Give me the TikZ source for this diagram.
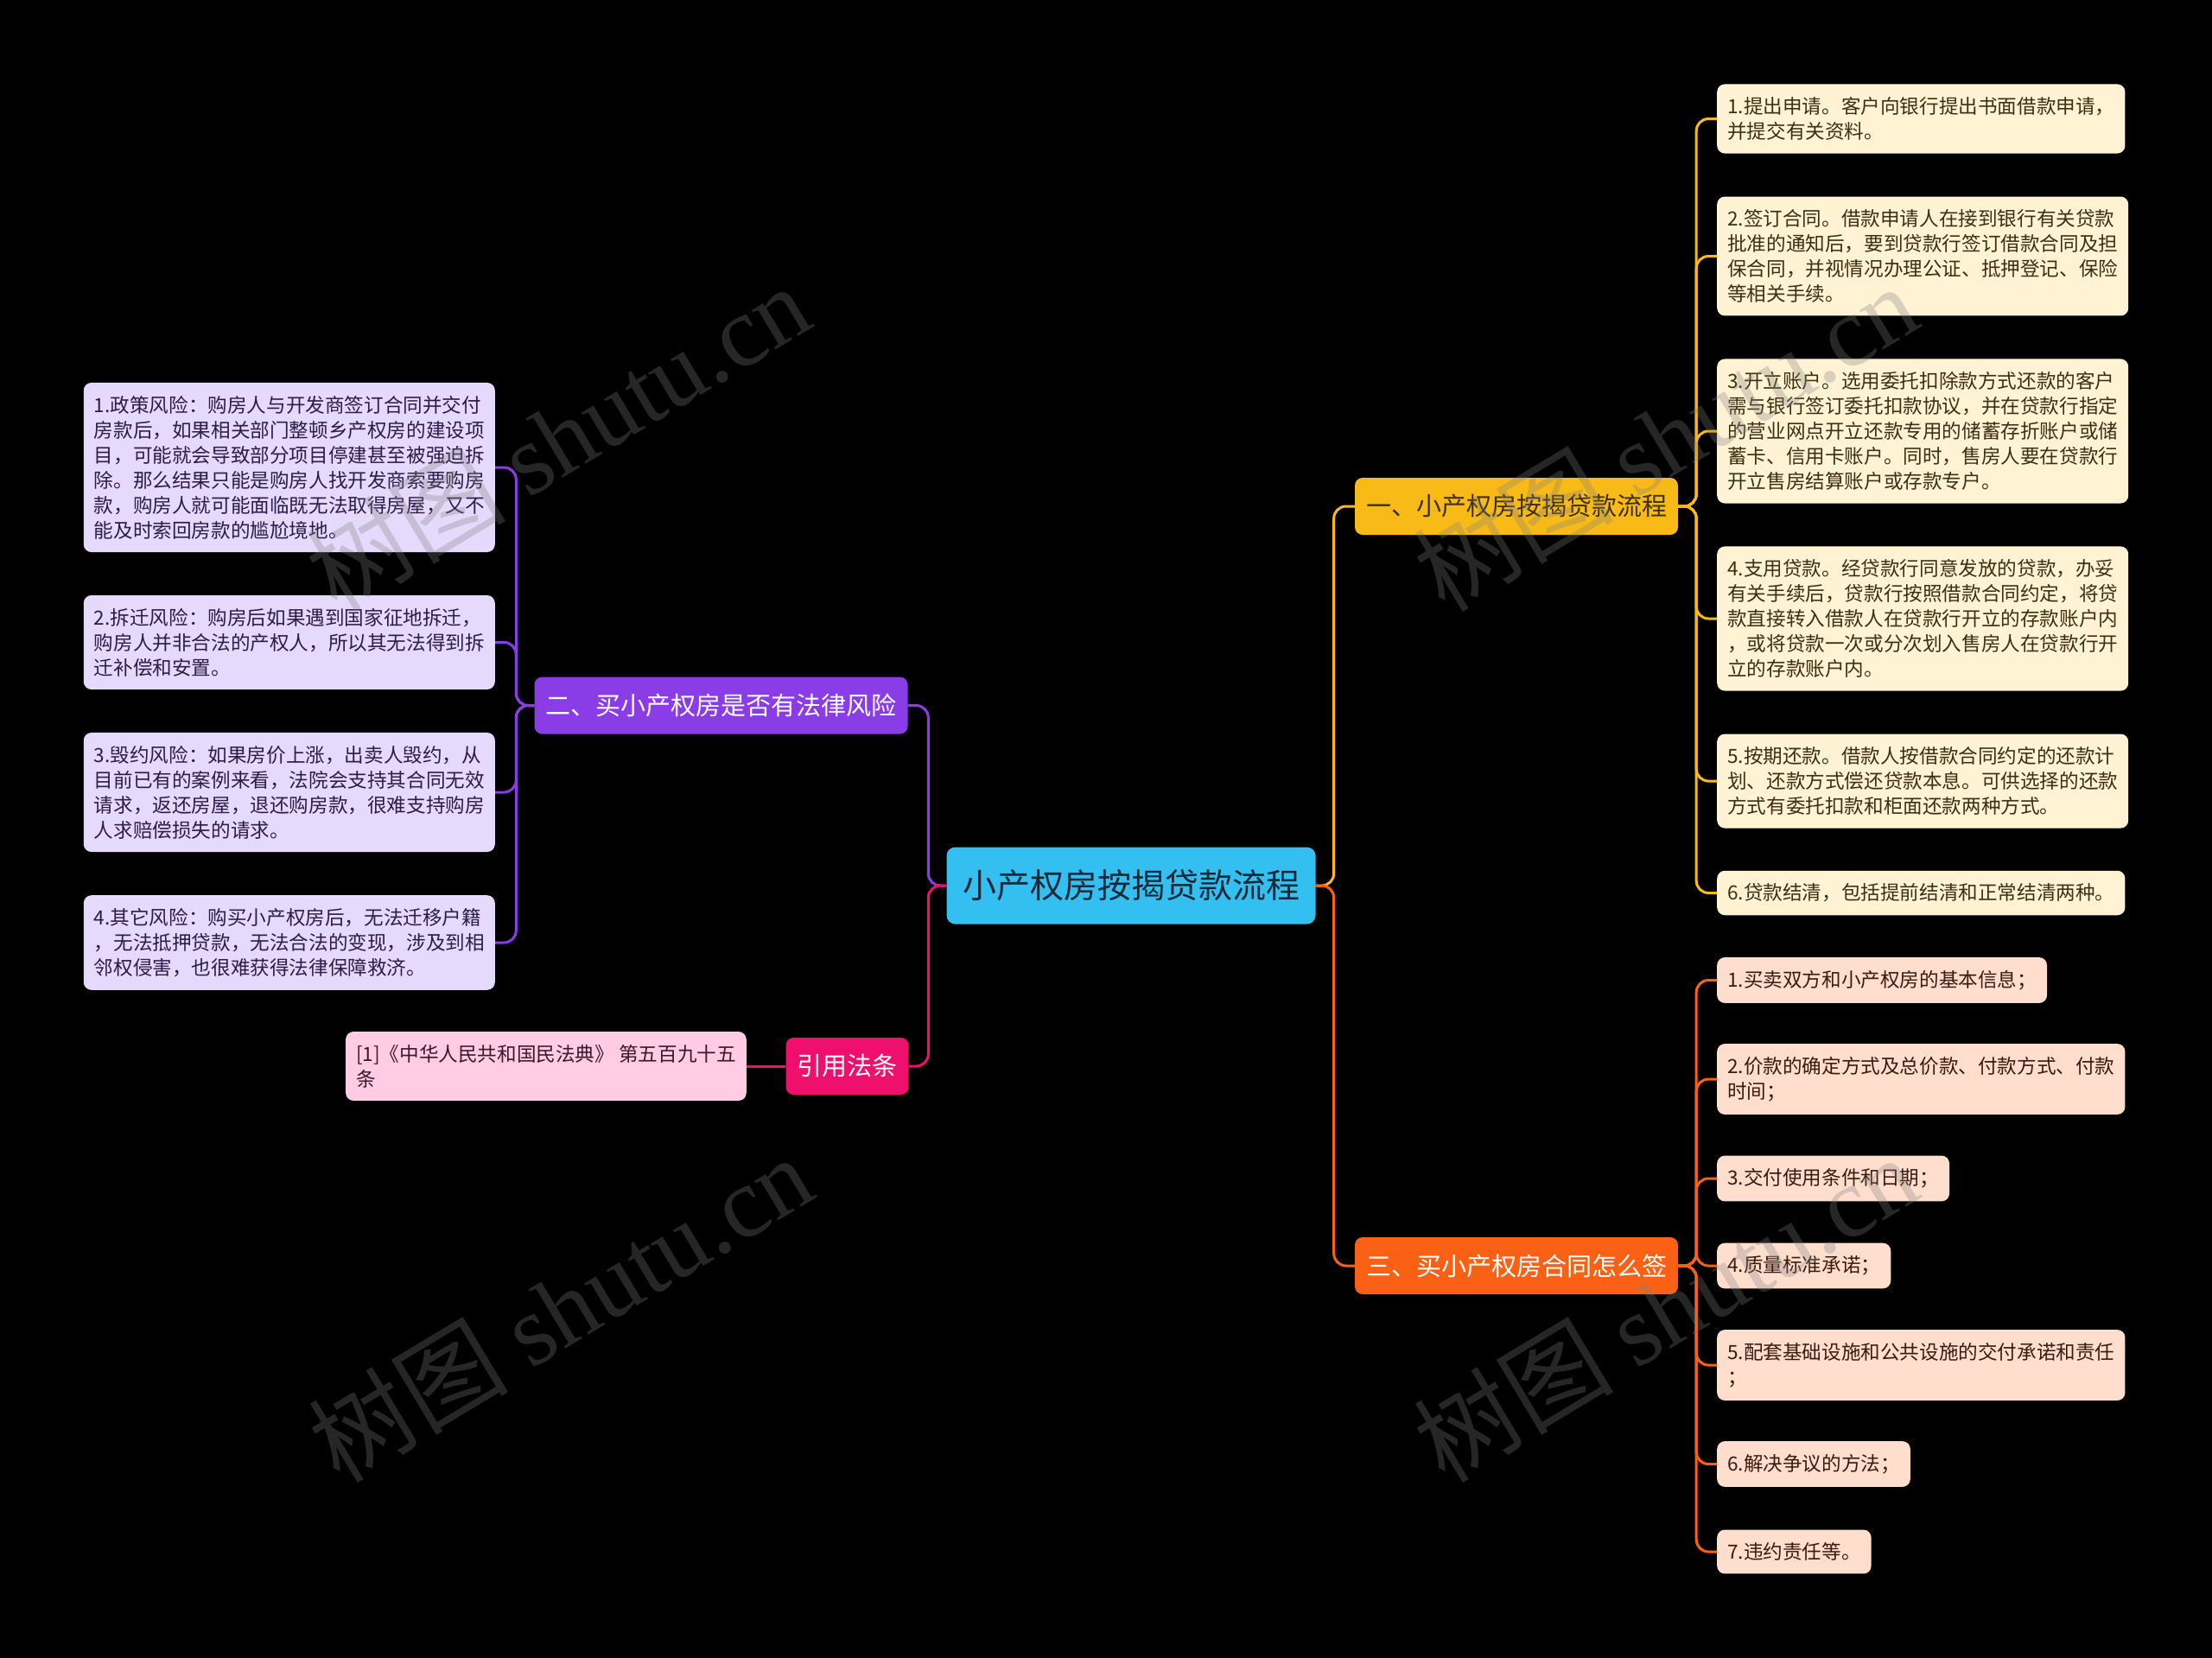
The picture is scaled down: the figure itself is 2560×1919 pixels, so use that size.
\documentclass[tikz,border=0pt]{standalone}
\usepackage{fontspec}
\setmainfont{Noto Sans CJK SC}
\newfontfamily\markserif{Liberation Serif}
\usetikzlibrary{calc}
\definecolor{rootfill}{RGB}{51,192,240}
\definecolor{rootink}{RGB}{24,40,56}
\definecolor{amberbr}{RGB}{248,186,22}
\definecolor{amberleaf}{RGB}{255,243,212}
\definecolor{amberink}{RGB}{60,48,16}
\definecolor{violetbr}{RGB}{138,60,230}
\definecolor{violetleaf}{RGB}{230,218,252}
\definecolor{violetink}{RGB}{44,28,72}
\definecolor{orangebr}{RGB}{250,97,20}
\definecolor{orangeleaf}{RGB}{255,222,206}
\definecolor{orangeink}{RGB}{60,26,14}
\definecolor{pinkbr}{RGB}{238,16,108}
\definecolor{pinkleaf}{RGB}{255,204,228}
\definecolor{pinkink}{RGB}{60,24,42}

\begin{document}
\begin{tikzpicture}[x=1pt,y=-1pt,
  root/.style={fill=rootfill,text=rootink,rounded corners=10pt,inner xsep=18.5pt,
    minimum height=89pt,font=\fontsize{39}{46}\selectfont},
  branch/.style={fill=#1,rounded corners=9pt,inner xsep=13pt,minimum height=66pt,
    font=\fontsize{29}{34}\selectfont},
  leaf/.style={fill=#1,rounded corners=9pt,inner xsep=12pt,inner ysep=15pt,
    align=left,font=\fontsize{22.6}{29}\selectfont},
  link/.style={draw=#1,line width=3pt,rounded corners=14pt},
  wmark/.style={text=gray,text opacity=0.3,rotate=31,font=\fontsize{116}{120}\selectfont}]
  \useasboundingbox (0,0) rectangle (2560,1919);
  \fill[black] (0,0) rectangle (2560,1919);

  % root and main branches
  \node[root] (root) at (1309,1025) {小产权房按揭贷款流程};
  \node[branch=amberbr,text=amberink] (b1) at (1755,586) {一、小产权房按揭贷款流程};
  \node[branch=violetbr,text=white] (b2) at (834.5,816.5) {二、买小产权房是否有法律风险};
  \node[branch=orangebr,text=white] (b3) at (1755,1465) {三、买小产权房合同怎么签};
  \node[branch=pinkbr,text=white] (b4) at (980.5,1234) {引用法条};

  % leaves of branch 1
  \begin{scope}[every node/.style={leaf=amberleaf,text=amberink,anchor=west}]
    \node (y1) at (1987,137.5) {1.提出申请。客户向银行提出书面借款申请，\\并提交有关资料。};
    \node (y2) at (1987,296.5) {2.签订合同。借款申请人在接到银行有关贷款\\批准的通知后，要到贷款行签订借款合同及担\\保合同，并视情况办理公证、抵押登记、保险\\等相关手续。};
    \node (y3) at (1987,499) {3.开立账户。选用委托扣除款方式还款的客户\\需与银行签订委托扣款协议，并在贷款行指定\\的营业网点开立还款专用的储蓄存折账户或储\\蓄卡、信用卡账户。同时，售房人要在贷款行\\开立售房结算账户或存款专户。};
    \node (y4) at (1987,716) {4.支用贷款。经贷款行同意发放的贷款，办妥\\有关手续后，贷款行按照借款合同约定，将贷\\款直接转入借款人在贷款行开立的存款账户内\\，或将贷款一次或分次划入售房人在贷款行开\\立的存款账户内。};
    \node (y5) at (1987,904) {5.按期还款。借款人按借款合同约定的还款计\\划、还款方式偿还贷款本息。可供选择的还款\\方式有委托扣款和柜面还款两种方式。};
    \node (y6) at (1987,1033.5) {6.贷款结清，包括提前结清和正常结清两种。};
  \end{scope}

  % leaves of branch 2
  \begin{scope}[every node/.style={leaf=violetleaf,text=violetink,anchor=east}]
    \node (p1) at (573,541) {1.政策风险：购房人与开发商签订合同并交付\\房款后，如果相关部门整顿乡产权房的建设项\\目，可能就会导致部分项目停建甚至被强迫拆\\除。那么结果只能是购房人找开发商索要购房\\款，购房人就可能面临既无法取得房屋，又不\\能及时索回房款的尴尬境地。};
    \node (p2) at (573,743.5) {2.拆迁风险：购房后如果遇到国家征地拆迁，\\购房人并非合法的产权人，所以其无法得到拆\\迁补偿和安置。};
    \node (p3) at (573,917) {3.毁约风险：如果房价上涨，出卖人毁约，从\\目前已有的案例来看，法院会支持其合同无效\\请求，返还房屋，退还购房款，很难支持购房\\人求赔偿损失的请求。};
    \node (p4) at (573,1091) {4.其它风险：购买小产权房后，无法迁移户籍\\，无法抵押贷款，无法合法的变现，涉及到相\\邻权侵害，也很难获得法律保障救济。};
  \end{scope}

  % leaves of branch 3
  \begin{scope}[every node/.style={leaf=orangeleaf,text=orangeink,anchor=west}]
    \node (o1) at (1987,1134.5) {1.买卖双方和小产权房的基本信息；};
    \node (o2) at (1987,1249) {2.价款的确定方式及总价款、付款方式、付款\\时间；};
    \node (o3) at (1987,1364) {3.交付使用条件和日期；};
    \node (o4) at (1987,1465) {4.质量标准承诺；};
    \node (o5) at (1987,1580) {5.配套基础设施和公共设施的交付承诺和责任\\；};
    \node (o6) at (1987,1694.5) {6.解决争议的方法；};
    \node (o7) at (1987,1796) {7.违约责任等。};
  \end{scope}

  % leaf of branch 4
  \node[leaf=pinkleaf,text=pinkink,anchor=east] (c1) at (864,1234) {[1]《中华人民共和国民法典》 第五百九十五\\条};

  % connectors
  \draw[link=amberbr] (root.east) -- ++(21,0) |- (b1.west);
  \draw[link=orangebr] (root.east) -- ++(21,0) |- (b3.west);
  \draw[link=violetbr] (root.west) -- ++(-21,0) |- (b2.east);
  \draw[link=pinkbr] (root.west) -- ++(-21,0) |- (b4.east);
  \foreach \n in {1,...,6}
    \draw[link=amberbr] (b1.east) -- ++(21,0) |- (y\n.west);
  \foreach \n in {1,...,7}
    \draw[link=orangebr] (b3.east) -- ++(21,0) |- (o\n.west);
  \foreach \n in {1,...,4}
    \draw[link=violetbr] (b2.west) -- ++(-21,0) |- (p\n.east);
  \draw[link=pinkbr] (b4.west) -- (c1.east);

  % watermarks
  \foreach \p in {(645,506),(648,1514),(1927,506),(1927,1514)}
    \node[wmark] at \p {树图 {\markserif shutu.cn}};
\end{tikzpicture}
\end{document}
